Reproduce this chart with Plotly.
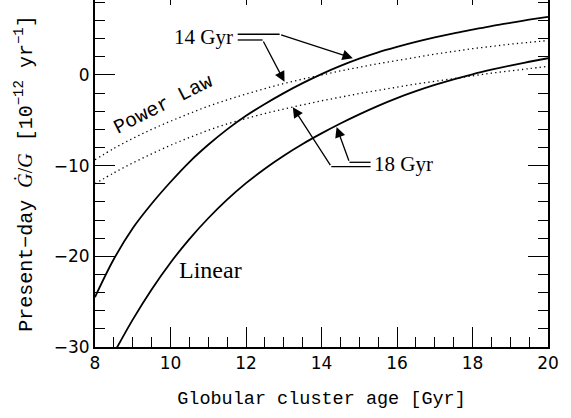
import plotly.graph_objects as go

# ---- data ----
ages = [8, 8.5, 9, 9.5, 10, 10.5, 11, 11.5, 12, 12.5, 13, 13.5, 14, 14.5,
        15, 15.5, 16, 16.5, 17, 17.5, 18, 18.5, 19, 19.5, 20]
linear_14 = [-24.5, -20.3, -16.9, -14.2, -11.8, -9.6, -7.7, -6.0, -4.5, -3.2, -2.0, -0.9, 0.1, 1.0,
             1.8, 2.5, 3.1, 3.65, 4.15, 4.6, 5.0, 5.4, 5.75, 6.1, 6.42]
ages_18 = ages[1:]
linear_18 = [-30.68, -26.98, -23.65, -20.7, -18.1, -15.8, -13.75, -11.93, -10.33, -8.9, -7.61, -6.44,
             -5.35, -4.34, -3.40, -2.55, -1.79, -1.1, -0.48, 0.08, 0.58, 1.04, 1.46, 1.85]
power_14 = [-9.35, -8.1, -7.0, -6.0, -5.1, -4.25, -3.45, -2.75, -2.1, -1.5, -0.95, -0.45, 0.0, 0.45,
            0.85, 1.25, 1.6, 1.95, 2.3, 2.6, 2.9, 3.15, 3.4, 3.6, 3.8]
power_18 = [-12.0, -10.8, -9.7, -8.7, -7.75, -6.9, -6.1, -5.4, -4.8, -4.25, -3.75, -3.3, -2.85, -2.45,
            -2.05, -1.7, -1.35, -1.0, -0.7, -0.4, -0.1, 0.2, 0.45, 0.7, 0.95]

x_ticks = [8, 10, 12, 14, 16, 18, 20]
y_ticks = [-30, -20, -10, 0]

MONO = "Liberation Mono"
SERIF = "Liberation Serif"
SANS = "DejaVu Sans"

fig = go.Figure()
solid = dict(color="black", width=1.8)
dotted = dict(color="black", width=1.3, dash="1.3px,3.2px")
fig.add_trace(go.Scatter(x=ages, y=linear_14, mode="lines", line=solid, line_shape="spline", hoverinfo="skip"))
fig.add_trace(go.Scatter(x=ages_18, y=linear_18, mode="lines", line=solid, line_shape="spline", hoverinfo="skip"))
fig.add_trace(go.Scatter(x=ages, y=power_14, mode="lines", line=dotted, line_shape="spline", hoverinfo="skip"))
fig.add_trace(go.Scatter(x=ages, y=power_18, mode="lines", line=dotted, line_shape="spline", hoverinfo="skip"))
# invisible trace to activate the top tick axis
fig.add_trace(go.Scatter(x=ages, y=power_14, xaxis="x2", mode="lines", line=dict(width=0),
                         opacity=0, hoverinfo="skip"))

fig.update_layout(
    width=571, height=418,
    margin=dict(l=95, r=23, t=0, b=71),
    paper_bgcolor="white", plot_bgcolor="white",
    showlegend=False,
    xaxis=dict(range=[8, 20], tickmode="array", tickvals=x_ticks,
               ticktext=[str(v) for v in x_ticks], automargin=False,
               ticks="inside", ticklen=20, tickwidth=1.3, tickcolor="black",
               minor=dict(tickmode="linear", tick0=8, dtick=0.5, ticks="inside", ticklen=10,
                          tickwidth=1.3, tickcolor="black", showgrid=False),
               showline=True, linewidth=2, linecolor="black", mirror=False,
               showgrid=False, zeroline=False,
               tickfont=dict(family=SANS, size=17, color="black"),
               title=dict(text="Globular cluster age [Gyr]", standoff=19,
                          font=dict(family=MONO, size=18.5, color="black"))),
    xaxis2=dict(range=[8, 20], overlaying="x", side="top", tickmode="array", tickvals=x_ticks,
                ticks="inside", ticklen=4.5, tickwidth=1.3, tickcolor="black", automargin=False,
                showticklabels=False, showline=False, showgrid=False, zeroline=False),
    yaxis=dict(range=[-30, 8.27], tickmode="array", tickvals=y_ticks,
               ticktext=["\u2212" + str(-v) if v < 0 else str(v) for v in y_ticks],
               automargin=False,
               ticks="inside", ticklen=20, tickwidth=1.3, tickcolor="black",
               minor=dict(tickmode="linear", tick0=-30, dtick=2, ticks="inside", ticklen=10,
                          tickwidth=1.3, tickcolor="black", showgrid=False),
               showline=True, linewidth=2, linecolor="black", mirror="ticks",
               showgrid=False, zeroline=False,
               tickfont=dict(family=SANS, size=17, color="black"),
               title=dict(text="Present\u2212day <span style=\"font-family:Liberation Serif\"><i>\u0120</i>/<i>G</i></span> "
                               "[10<sup>\u221212</sup> yr<sup>\u22121</sup>]",
                          standoff=16, font=dict(family=MONO, size=20, color="black"))),
)

txt = dict(color="black")
fig.add_annotation(x=11.72, y=4.2, text="14 Gyr", showarrow=False, xanchor="right",
                   font=dict(family=SERIF, size=21, **txt))
fig.add_annotation(x=15.35, y=-9.8, text="18 Gyr", showarrow=False, xanchor="left",
                   font=dict(family=SERIF, size=21, **txt))
fig.add_annotation(x=11.05, y=-21.5, text="Linear", showarrow=False,
                   font=dict(family=SERIF, size=24, **txt))
fig.add_annotation(x=9.81, y=-3.2, text="Power Law", showarrow=False, textangle=-27,
                   font=dict(family=MONO, size=20, **txt))

# connector lines (horizontal double lines)
lw = dict(color="black", width=1.3)
for (x0, x1, yy) in [(11.78, 12.89, 4.49), (11.78, 12.44, 3.86),
                     (15.30, 14.74, -9.63), (15.30, 14.26, -10.11)]:
    fig.add_shape(type="line", x0=x0, x1=x1, y0=yy, y1=yy, xref="x", yref="y", line=lw)

# arrows (tail -> tip)
for (tx, ty, hx, hy) in [(12.89, 4.49, 14.83, 1.84), (12.44, 3.86, 13.02, -0.75),
                         (14.74, -9.63, 14.40, -5.73), (14.26, -10.11, 13.24, -3.55)]:
    fig.add_annotation(x=hx, y=hy, ax=tx, ay=ty, xref="x", yref="y", axref="x", ayref="y",
                       text="", showarrow=True, arrowhead=2, arrowsize=1.6, arrowwidth=1.3,
                       arrowcolor="black", standoff=0, startstandoff=0)

fig.write_html("out.html", config={"displayModeBar": False},
               post_script="document.body.style.margin='0';")
